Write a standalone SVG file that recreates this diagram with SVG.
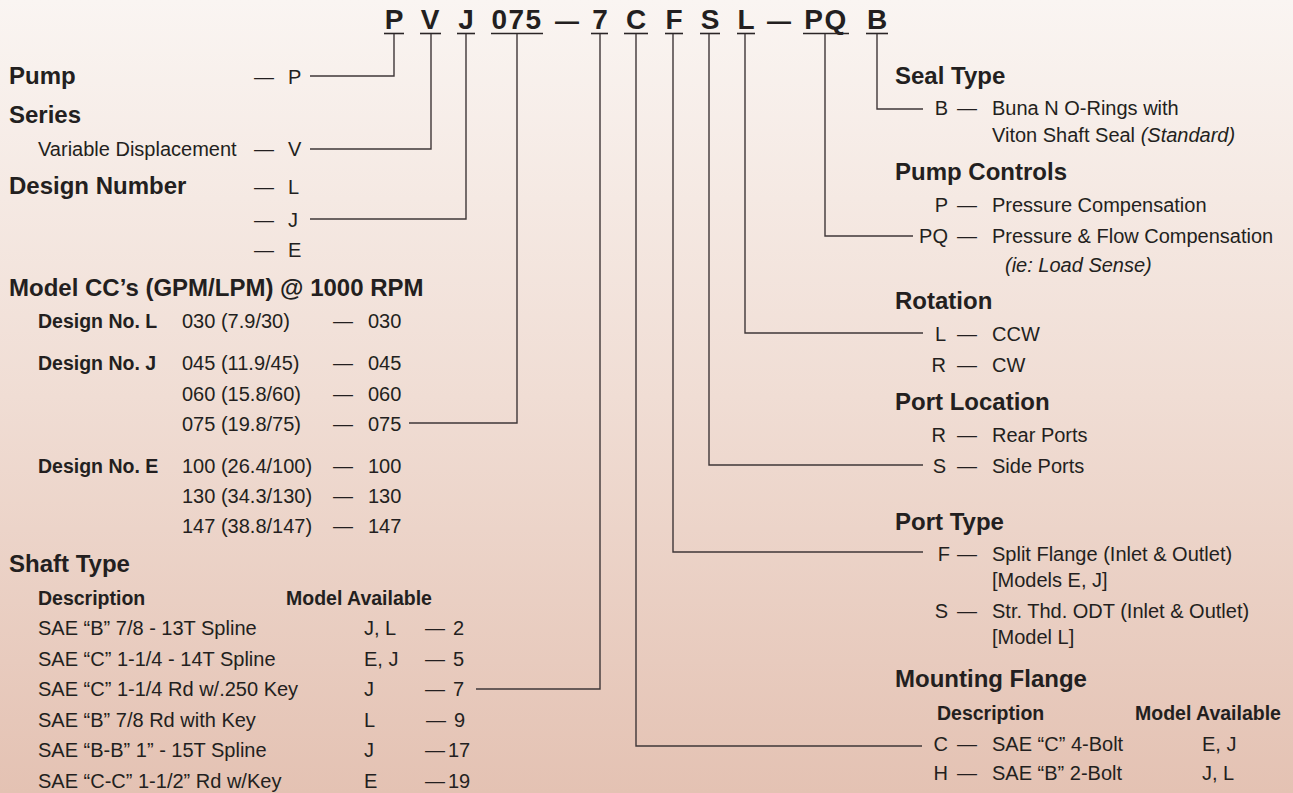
<svg xmlns="http://www.w3.org/2000/svg" width="1293" height="793" viewBox="0 0 1293 793">
<defs>
<linearGradient id="bg" x1="0" y1="0" x2="0" y2="1">
<stop offset="0" stop-color="#faf5f2"/>
<stop offset="0.5" stop-color="#f0ddd4"/>
<stop offset="1" stop-color="#e4c2b3"/>
</linearGradient>
<style>
text{font-family:"Liberation Sans",Arial,sans-serif;fill:#231f20}
.k{font-size:28px;font-weight:bold;text-anchor:middle}
.kd{font-size:24px;font-weight:bold;text-anchor:middle}
.h{font-size:24px;font-weight:bold}
.t{font-size:20px}
.s{font-size:19.5px;font-weight:bold}
.i{font-style:italic}
.e{text-anchor:end}
.u{stroke:#2b2526;stroke-width:1.6}
.c{fill:none;stroke:#3f3738;stroke-width:1.4}
</style>
</defs>
<rect x="0" y="0" width="1293" height="793" fill="url(#bg)"/>

<g id="header">
<text class="k" x="394" y="29">P</text>
<text class="k" x="430" y="29">V</text>
<text class="k" x="466" y="29">J</text>
<text class="k" x="517" y="29" letter-spacing="1.5">075</text>
<text class="kd" x="567" y="29">—</text>
<text class="k" x="600" y="29">7</text>
<text class="k" x="636" y="29">C</text>
<text class="k" x="674" y="29">F</text>
<text class="k" x="710" y="29">S</text>
<text class="k" x="746" y="29">L</text>
<text class="kd" x="779" y="29">—</text>
<text class="k" x="826" y="29" letter-spacing="1.5">PQ</text>
<text class="k" x="877" y="29">B</text>
<line class="u" x1="384" y1="33.5" x2="404" y2="33.5"/>
<line class="u" x1="420" y1="33.5" x2="441" y2="33.5"/>
<line class="u" x1="457" y1="33.5" x2="475" y2="33.5"/>
<line class="u" x1="491" y1="33.5" x2="543" y2="33.5"/>
<line class="u" x1="591" y1="33.5" x2="608" y2="33.5"/>
<line class="u" x1="624" y1="33.5" x2="648" y2="33.5"/>
<line class="u" x1="665" y1="33.5" x2="683" y2="33.5"/>
<line class="u" x1="700" y1="33.5" x2="720" y2="33.5"/>
<line class="u" x1="737" y1="33.5" x2="755" y2="33.5"/>
<line class="u" x1="803" y1="33.5" x2="849" y2="33.5"/>
<line class="u" x1="866" y1="33.5" x2="888" y2="33.5"/>
</g>

<g id="connectors">
<path class="c" d="M394,34 V76 H310"/>
<path class="c" d="M431,34 V149 H310"/>
<path class="c" d="M466,34 V219 H310"/>
<path class="c" d="M517,34 V423 H409"/>
<path class="c" d="M600,34 V689 H476"/>
<path class="c" d="M636,34 V746 H922"/>
<path class="c" d="M673,34 V552 H923"/>
<path class="c" d="M709,34 V465 H923"/>
<path class="c" d="M745,34 V333 H923"/>
<path class="c" d="M825,34 V236 H913"/>
<path class="c" d="M877,34 V109 H923"/>
</g>

<g id="pump">
<text class="h" x="9" y="84">Pump</text>
<text class="t" x="254" y="84">— <tspan x="288">P</tspan></text>
</g>

<g id="series">
<text class="h" x="9" y="123">Series</text>
<text class="t" x="38" y="156">Variable Displacement</text>
<text class="t" x="254" y="156">— <tspan x="288">V</tspan></text>
</g>

<g id="design-number">
<text class="h" x="9" y="194">Design Number</text>
<text class="t" x="254" y="194">— <tspan x="288">L</tspan></text>
<text class="t" x="254" y="227">— <tspan x="288">J</tspan></text>
<text class="t" x="254" y="257">— <tspan x="288">E</tspan></text>
</g>

<g id="model-cc">
<text class="h" x="9" y="296">Model CC’s (GPM/LPM) @ 1000 RPM</text>
<text class="s" x="38" y="328">Design No. L</text>
<text class="t" x="182" y="328">030 (7.9/30)</text>
<text class="t" x="333" y="328">— <tspan x="368">030</tspan></text>
<text class="s" x="38" y="370">Design No. J</text>
<text class="t" x="182" y="370">045 (11.9/45)</text>
<text class="t" x="333" y="370">— <tspan x="368">045</tspan></text>
<text class="t" x="182" y="401">060 (15.8/60)</text>
<text class="t" x="333" y="401">— <tspan x="368">060</tspan></text>
<text class="t" x="182" y="431">075 (19.8/75)</text>
<text class="t" x="333" y="431">— <tspan x="368">075</tspan></text>
<text class="s" x="38" y="473">Design No. E</text>
<text class="t" x="182" y="473">100 (26.4/100)</text>
<text class="t" x="333" y="473">— <tspan x="368">100</tspan></text>
<text class="t" x="182" y="503">130 (34.3/130)</text>
<text class="t" x="333" y="503">— <tspan x="368">130</tspan></text>
<text class="t" x="182" y="533">147 (38.8/147)</text>
<text class="t" x="333" y="533">— <tspan x="368">147</tspan></text>
</g>

<g id="shaft-type">
<text class="h" x="9" y="572">Shaft Type</text>
<text class="s" x="38" y="605">Description</text>
<text class="s" x="286" y="605">Model Available</text>
<text class="t" x="38" y="635">SAE “B” 7/8 - 13T Spline</text>
<text class="t" x="364" y="635">J, L</text>
<text class="t" x="425" y="635">— <tspan x="453">2</tspan></text>
<text class="t" x="38" y="666">SAE “C” 1-1/4 - 14T Spline</text>
<text class="t" x="364" y="666">E, J</text>
<text class="t" x="425" y="666">— <tspan x="453">5</tspan></text>
<text class="t" x="38" y="696">SAE “C” 1-1/4 Rd w/.250 Key</text>
<text class="t" x="364" y="696">J</text>
<text class="t" x="425" y="696">— <tspan x="453">7</tspan></text>
<text class="t" x="38" y="727">SAE “B” 7/8 Rd with Key</text>
<text class="t" x="364" y="727">L</text>
<text class="t" x="426" y="727">— <tspan x="454">9</tspan></text>
<text class="t" x="38" y="757">SAE “B-B” 1” - 15T Spline</text>
<text class="t" x="364" y="757">J</text>
<text class="t" x="425" y="757">—<tspan x="448">17</tspan></text>
<text class="t" x="38" y="788">SAE “C-C” 1-1/2” Rd w/Key</text>
<text class="t" x="364" y="788">E</text>
<text class="t" x="425" y="788">—<tspan x="448">19</tspan></text>
</g>

<g id="seal-type">
<text class="h" x="895" y="84">Seal Type</text>
<text class="t e" x="948" y="115">B</text>
<text class="t" x="957" y="115">—</text>
<text class="t" x="992" y="115">Buna N O-Rings with</text>
<text class="t" x="992" y="142">Viton Shaft Seal <tspan class="i">(Standard)</tspan></text>
</g>

<g id="pump-controls">
<text class="h" x="895" y="180">Pump Controls</text>
<text class="t e" x="948" y="212">P</text>
<text class="t" x="957" y="212">—</text>
<text class="t" x="992" y="212">Pressure Compensation</text>
<text class="t e" x="948" y="243">PQ</text>
<text class="t" x="957" y="243">—</text>
<text class="t" x="992" y="243">Pressure &amp; Flow Compensation</text>
<text class="t i" x="1005" y="272">(ie: Load Sense)</text>
</g>

<g id="rotation">
<text class="h" x="895" y="309">Rotation</text>
<text class="t e" x="946" y="341">L</text>
<text class="t" x="957" y="341">—</text>
<text class="t" x="992" y="341">CCW</text>
<text class="t e" x="946" y="372">R</text>
<text class="t" x="957" y="372">—</text>
<text class="t" x="992" y="372">CW</text>
</g>

<g id="port-location">
<text class="h" x="895" y="410">Port Location</text>
<text class="t e" x="946" y="442">R</text>
<text class="t" x="957" y="442">—</text>
<text class="t" x="992" y="442">Rear Ports</text>
<text class="t e" x="946" y="473">S</text>
<text class="t" x="957" y="473">—</text>
<text class="t" x="992" y="473">Side Ports</text>
</g>

<g id="port-type">
<text class="h" x="895" y="530">Port Type</text>
<text class="t e" x="950" y="561">F</text>
<text class="t" x="957" y="561">—</text>
<text class="t" x="992" y="561">Split Flange (Inlet &amp; Outlet)</text>
<text class="t" x="992" y="587">[Models E, J]</text>
<text class="t e" x="948" y="618">S</text>
<text class="t" x="957" y="618">—</text>
<text class="t" x="992" y="618">Str. Thd. ODT (Inlet &amp; Outlet)</text>
<text class="t" x="992" y="644">[Model L]</text>
</g>

<g id="mounting-flange">
<text class="h" x="895" y="687">Mounting Flange</text>
<text class="s" x="937" y="720">Description</text>
<text class="s" x="1135" y="720">Model Available</text>
<text class="t e" x="948" y="751">C</text>
<text class="t" x="957" y="751">—</text>
<text class="t" x="992" y="751">SAE “C” 4-Bolt</text>
<text class="t" x="1202" y="751">E, J</text>
<text class="t e" x="948" y="780">H</text>
<text class="t" x="957" y="780">—</text>
<text class="t" x="992" y="780">SAE “B” 2-Bolt</text>
<text class="t" x="1202" y="780">J, L</text>
</g>
</svg>
